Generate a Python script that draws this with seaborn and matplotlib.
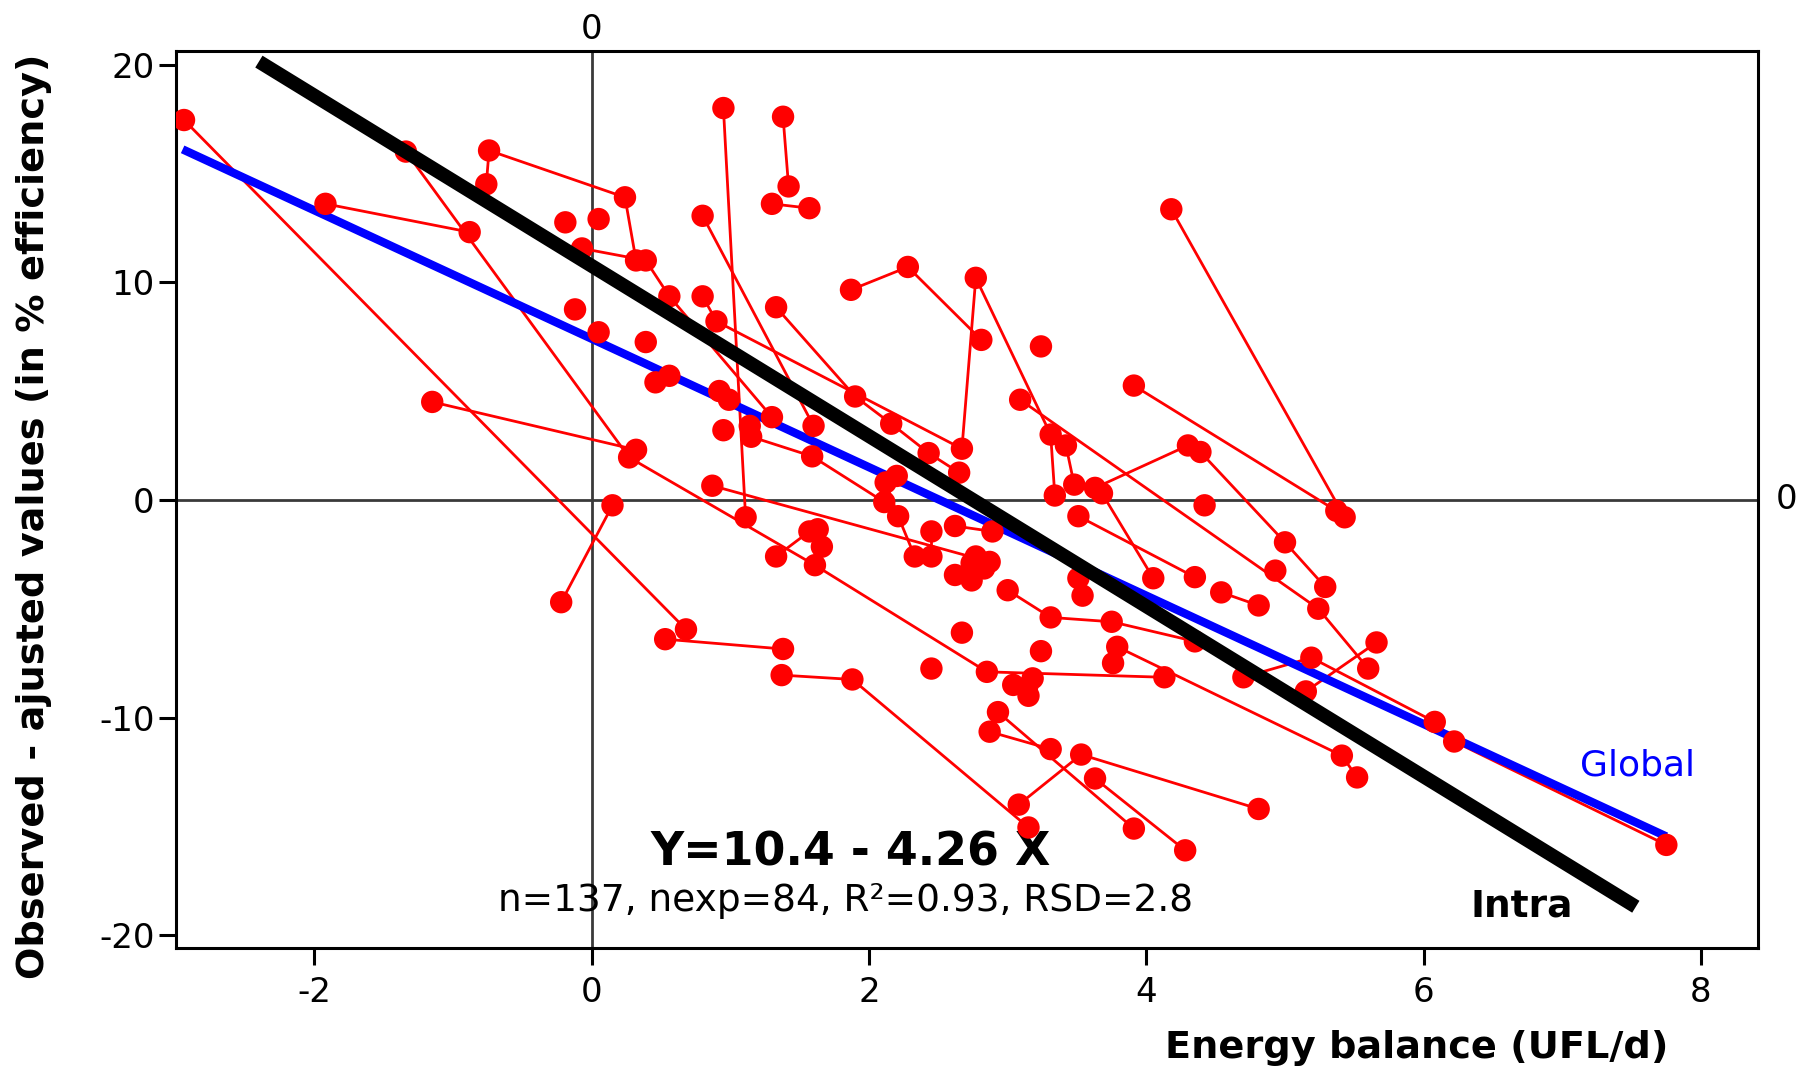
import matplotlib
matplotlib.use("Agg")
import matplotlib.pyplot as plt
import seaborn as sns
import pandas as pd
import numpy as np

# ---------------- data ----------------
# each experiment: energy balance (UFL/d) and observed - adjusted residuals
exp_points = [
    [(-2.94, 17.45), (0.68, -5.95)],
    [(0.53, -6.4), (1.38, -6.85)],
    [(-1.92, 13.6), (-0.88, 12.3)],
    [(-1.34, 16.0), (0.27, 1.95), (1.61, -3.0), (2.85, -7.9), (4.13, -8.15)],
    [(-1.15, 4.5), (0.32, 2.3)],
    [(-0.76, 14.5), (-0.74, 16.05), (0.24, 13.9), (0.32, 11.0)],
    [(-0.07, 11.55), (0.39, 11.0), (0.56, 9.35), (1.30, 3.8)],
    [(-0.19, 12.75)],
    [(0.05, 12.9)],
    [(-0.12, 8.75)],
    [(0.05, 7.7)],
    [(0.39, 7.25)],
    [(0.46, 5.4), (0.56, 5.7)],
    [(-0.22, -4.7), (0.15, -0.25)],
    [(0.80, 13.05), (1.60, 3.4)],
    [(0.95, 18.0), (1.11, -0.8)],
    [(1.38, 17.6), (1.42, 14.4)],
    [(1.30, 13.6), (1.57, 13.4)],
    [(0.80, 9.35), (0.90, 8.2), (2.67, 2.35), (2.77, 10.2), (3.31, 3.0), (3.34, 0.2)],
    [(0.92, 5.0), (0.99, 4.6)],
    [(0.95, 3.2)],
    [(1.14, 3.4), (1.15, 2.9), (1.59, 2.0), (2.11, -0.1)],
    [(0.87, 0.65), (2.87, -2.85)],
    [(1.33, -2.6), (1.57, -1.45), (1.63, -1.35), (1.66, -2.15)],
    [(1.37, -8.05), (1.88, -8.25), (3.15, -15.05)],
    [(1.33, 8.85), (1.90, 4.75), (2.16, 3.5), (2.43, 2.15), (2.65, 1.25)],
    [(1.87, 9.65), (2.28, 10.7), (2.81, 7.35)],
    [(2.20, 1.1), (2.12, 0.8), (2.21, -0.75), (2.33, -2.6)],
    [(2.45, -1.45), (2.45, -2.6)],
    [(2.62, -1.2), (2.89, -1.45)],
    [(2.62, -3.45), (2.74, -3.7)],
    [(2.74, -2.9), (2.83, -3.15)],
    [(2.77, -2.6)],
    [(2.45, -7.75)],
    [(2.67, -6.1)],
    [(2.93, -9.75), (3.91, -15.1)],
    [(2.87, -10.65), (3.31, -11.45)],
    [(3.04, -8.5), (3.18, -8.2)],
    [(3.14, -8.6), (3.15, -9.0)],
    [(3.08, -14.0), (3.53, -11.7), (4.81, -14.2)],
    [(3.63, -12.8), (4.28, -16.1)],
    [(3.24, 7.05)],
    [(3.09, 4.6), (5.24, -5.0), (5.60, -7.75)],
    [(3.42, 2.5), (3.48, 0.7)],
    [(3.51, -0.75), (4.35, -3.55)],
    [(3.63, 0.55), (4.30, 2.5), (4.39, 2.2), (5.00, -1.95), (5.29, -4.0)],
    [(3.68, 0.3), (4.05, -3.6)],
    [(3.51, -3.6), (3.54, -4.4)],
    [(3.00, -4.15), (3.31, -5.4), (3.75, -5.6), (4.35, -6.5)],
    [(3.76, -7.5), (3.79, -6.75), (5.41, -11.75), (5.52, -12.75)],
    [(3.91, 5.25), (5.37, -0.5)],
    [(4.18, 13.35), (5.43, -0.8)],
    [(4.42, -0.25)],
    [(4.54, -4.25), (4.81, -4.85)],
    [(4.93, -3.25)],
    [(5.66, -6.55), (5.15, -8.8)],
    [(4.70, -8.15), (5.19, -7.25), (6.08, -10.2), (6.22, -11.1), (7.75, -15.85)],
    [(3.24, -6.95)],
]

exp_id = [i for i, pts in enumerate(exp_points) for _ in pts]
energy_balance = [p[0] for pts in exp_points for p in pts]
residual = [p[1] for pts in exp_points for p in pts]

# regression lines (intercept, slope, x-range)
global_intercept, global_slope = 7.4, -2.95
global_xrange = [-2.95, 7.75]
intra_intercept, intra_slope = 10.75, -3.91
intra_xrange = [-2.40, 7.53]

equation_text = "Y=10.4 - 4.26 X"
stats_text = "n=137, nexp=84, R²=0.93, RSD=2.8"
x_ticks = [-2, 0, 2, 4, 6, 8]
y_ticks = [-20, -10, 0, 10, 20]

# ---------------- plotting ----------------
sns.set_style("ticks")
plt.rcParams['font.family'] = ['DejaVu Sans']
plt.rcParams['text.color'] = 'black'
plt.rcParams['axes.labelcolor'] = 'black'
plt.rcParams['xtick.color'] = 'black'
plt.rcParams['ytick.color'] = 'black'

df = pd.DataFrame({"exp": exp_id, "x": energy_balance, "y": residual})
gdf = pd.DataFrame({"x": global_xrange,
                    "y": [global_intercept + global_slope * v for v in global_xrange]})
idf = pd.DataFrame({"x": intra_xrange,
                    "y": [intra_intercept + intra_slope * v for v in intra_xrange]})

fig = plt.figure(figsize=(18.02, 10.72), dpi=100)
ax = fig.add_axes([0.0975, 0.1154, 0.878, 0.8366])

ax.axhline(0, color="#3a3a3a", lw=2, zorder=1)
ax.axvline(0, color="#3a3a3a", lw=2, zorder=1)

sns.lineplot(data=df, x="x", y="y", units="exp", estimator=None, sort=False,
             color="#ff0000", lw=2, ax=ax, zorder=2, legend=False)
sns.lineplot(data=gdf, x="x", y="y", color="#0000ff", lw=6, ax=ax, zorder=3,
             solid_capstyle="butt")
sns.scatterplot(data=df, x="x", y="y", color="#ff0000", s=260, edgecolor="none",
                ax=ax, zorder=4, legend=False)
sns.lineplot(data=idf, x="x", y="y", color="black", lw=10, ax=ax, zorder=5,
             solid_capstyle="butt")

ax.set_xlim(-3.0, 8.41)
ax.set_ylim(-20.6, 20.6)
ax.set_xticks(x_ticks)
ax.set_yticks(y_ticks)
ax.set_xticklabels([str(v) for v in x_ticks])
ax.set_yticklabels([str(v) for v in y_ticks])
ax.tick_params(axis="both", direction="out", length=12, width=2.2,
               labelsize=24.5, color="black", labelcolor="black")
ax.tick_params(axis="x", pad=8)
ax.tick_params(axis="y", pad=3)
for s in ax.spines.values():
    s.set_linewidth(2.2)
    s.set_color("black")
ax.set_xlabel("")
ax.set_ylabel("")

# secondary zero labels
ax.annotate("0", xy=(0, 1), xycoords=("data", "axes fraction"),
            xytext=(0, 4), textcoords="offset points",
            ha="center", va="bottom", fontsize=24.5, color="black")
ax.annotate("0", xy=(1, 0), xycoords=("axes fraction", "data"),
            xytext=(13, 0), textcoords="offset points",
            ha="left", va="center", fontsize=24.5, color="black")

ax.text(1.87, -16.2, equation_text, ha="center", va="center",
        fontsize=33, fontweight="bold", color="black")
ax.text(1.83, -18.45, stats_text, ha="center", va="center", fontsize=27,
        color="black")
ax.text(7.54, -12.2, "Global", ha="center", va="center", fontsize=26,
        color="#0000ff")
ax.text(6.71, -18.7, "Intra", ha="center", va="center", fontsize=27,
        fontweight="bold", color="black")

fig.text(0.926, 0.0224, "Energy balance (UFL/d)", ha="right", va="center",
         fontsize=27.5, fontweight="bold", color="black")
fig.text(0.019, 0.518, "Observed - ajusted values (in % efficiency)",
         rotation=90, ha="center", va="center", fontsize=27.5,
         fontweight="bold", color="black")

fig.savefig("out.png", dpi=100)
